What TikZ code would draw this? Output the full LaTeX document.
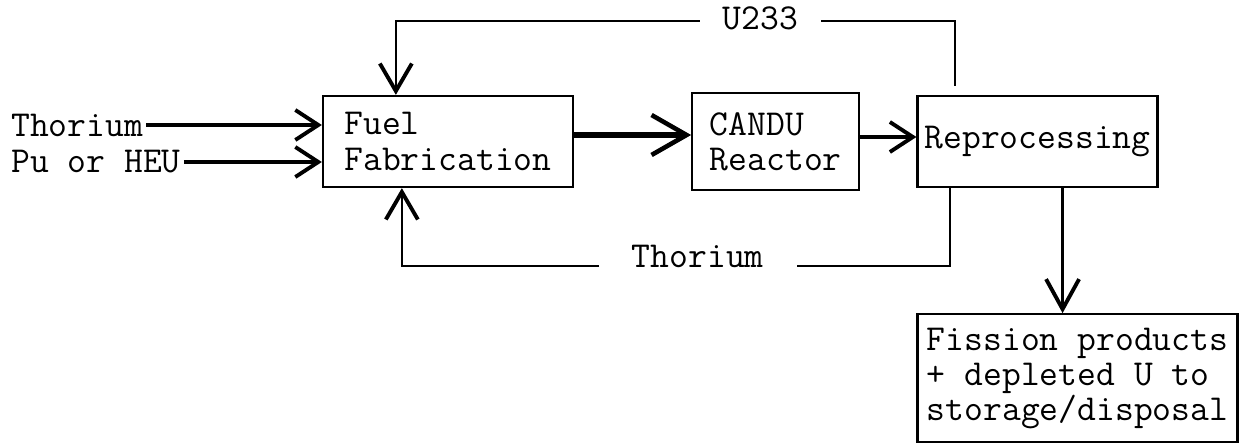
\documentclass[tikz,border=0pt]{standalone}
\usepackage{fontspec}
\usetikzlibrary{arrows.meta, positioning, calc}

\begin{document}
\begin{tikzpicture}[
    node distance=1cm,
    font=\ttfamily\fontsize{20.8}{20}\selectfont,
    % Style definitions
    flowbox/.style={draw, line width=1.3pt, align=left, inner sep=0pt},
    inlabel/.style={inner xsep=1.5pt, inner ysep=0pt},
    looplabel/.style={inner ysep=0pt},
    flowarrow/.style={-{Straight Barb[length=0.46cm, width=0.6cm, line width=2.2pt]}, line width=2.4pt},
    bigarrow/.style={-{Straight Barb[length=0.7cm, width=0.8cm, line width=2.6pt]}, line width=3.2pt},
    downarrow/.style={-{Straight Barb[length=0.6cm, width=0.66cm, line width=2.2pt]}, line width=1.6pt},
    loopline/.style={line width=1.1pt},
    looparrow/.style={loopline, -{Straight Barb[length=0.55cm, width=0.64cm, line width=2.2pt]}}
]
    \useasboundingbox (0,0) rectangle (24.82,-8.9);

    % === MAIN ROW ===
    \node (fuelfab) [flowbox, minimum width=5cm, minimum height=1.82cm] at (8.96,-2.83) {Fuel\\Fabrication};
    \node (candu) [flowbox, minimum width=3.34cm, minimum height=1.94cm, right=2.34cm of fuelfab] {CANDU\\Reactor};
    \node (reproc) [flowbox, minimum width=4.8cm, minimum height=1.82cm, right=1.12cm of candu] {Reprocessing};
    \node (fission) [flowbox, minimum width=6.4cm, minimum height=2.56cm, below=2.5cm of reproc.south west, anchor=north west] {Fission products\\+ depleted U to\\storage/disposal};

    \draw [bigarrow] ([yshift=0.13cm]fuelfab.east) -- ([yshift=0.13cm]fuelfab.east -| candu.west);
    \draw [flowarrow] ([yshift=0.09cm]candu.east) -- ([yshift=0.09cm]candu.east -| reproc.west);
    \draw [downarrow] ([xshift=-0.3cm]fission.north |- reproc.south) -- ([xshift=-0.3cm]fission.north);

    % === INPUTS ===
    \node (thin) [inlabel, left=6.27cm of fuelfab.west, anchor=west, yshift=0.33cm] {Thorium};
    \node (puheu) [inlabel, left=6.27cm of fuelfab.west, anchor=west, yshift=-0.41cm] {Pu or HEU};

    \draw [flowarrow] (thin.east) -- (thin.east -| fuelfab.west);
    \draw [flowarrow] (puheu.east) -- (puheu.east -| fuelfab.west);

    % === RECYCLE LOOPS ===
    \node (u233) [looplabel, inner xsep=0.45cm, above=1.48cm of candu.north, anchor=center, xshift=-0.31cm] {U233};
    \node (thback) [looplabel, inner xsep=0.65cm, below=1.3cm of candu.south, anchor=center, xshift=-1.56cm] {Thorium};

    \draw [loopline] ([xshift=0.78cm, yshift=0.18cm]reproc.north west) |- ([yshift=-0.06cm]u233.east);
    \draw [looparrow] ([yshift=-0.06cm]u233.west) -| ([xshift=1.48cm]fuelfab.north west);
    \draw [loopline] ([xshift=0.68cm]reproc.south west) |- ([yshift=-0.2cm]thback.east);
    \draw [looparrow] ([yshift=-0.2cm]thback.west) -| ([xshift=1.6cm]fuelfab.south west);

\end{tikzpicture}
\end{document}
